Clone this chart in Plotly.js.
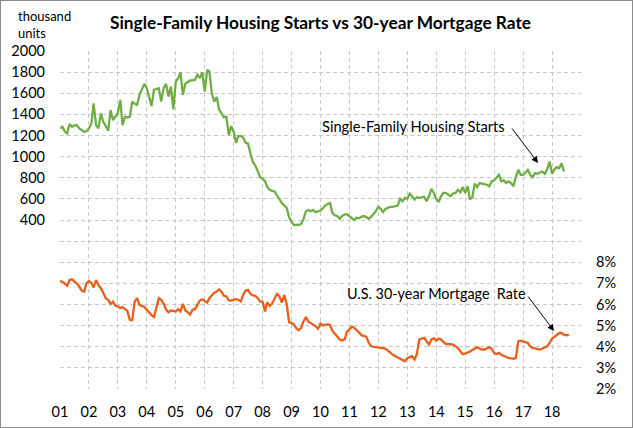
<!DOCTYPE html>
<html>
<head>
<meta charset="utf-8">
<script src="https://cdn.plot.ly/plotly-3.0.1.min.js"></script>
<style>
html,body{margin:0;padding:0;background:#fff;}
#chart{width:633px;height:428px;}
#frame{position:absolute;left:0;top:0;width:633px;height:428px;box-sizing:border-box;border:1px solid #8c8c8c;pointer-events:none;}
</style>
</head>
<body>
<div id="chart"></div>
<div id="frame"></div>
<script>
// Monthly data starting January 2001
const startYear = 2001;

// Single-family housing starts, thousand units (SAAR)
const housingStarts = [
  1267,1283,1240,1219,1308,1283,1295,1298,1267,1250,1235,1241,
  1267,1314,1505,1298,1267,1410,1330,1290,1244,1441,1346,1380,
  1410,1537,1298,1378,1371,1378,1521,1500,1489,1584,1640,1689,
  1648,1560,1479,1632,1640,1648,1521,1650,1689,1568,1663,1448,
  1711,1743,1797,1584,1690,1702,1721,1722,1727,1775,1743,1797,
  1616,1822,1806,1600,1521,1565,1448,1410,1371,1378,1203,1289,
  1235,1130,1194,1194,1181,1130,1124,1029,949,918,854,806,
  790,768,711,686,675,670,632,590,560,537,514,425,
  380,352,352,355,362,410,483,495,483,495,473,480,
  489,511,537,552,560,465,445,437,412,440,453,453,
  437,420,400,422,416,430,437,428,412,430,453,484,
  525,506,475,506,515,525,525,530,537,600,578,609,
  600,650,620,594,616,609,615,619,578,625,694,656,
  600,569,625,656,656,640,625,650,656,687,662,712,
  656,719,594,616,744,712,750,744,740,734,719,766,
  775,800,828,766,775,750,766,750,719,812,875,828,
  828,850,875,828,806,844,837,850,859,837,881,953,
  837,881,900,890,937,859
];

// U.S. 30-year mortgage rate, percent
const mortgageRate = [
  7.11,7.08,7.00,6.89,7.16,7.19,7.08,7.00,6.84,6.66,6.61,7.00,
  7.11,7.03,6.81,7.16,6.92,6.77,6.56,6.30,6.22,6.03,6.14,5.94,
  5.91,5.83,5.88,5.80,5.70,5.28,5.25,6.14,6.30,5.98,5.94,5.88,
  5.75,5.59,5.50,5.41,5.91,6.30,6.22,6.03,5.75,5.63,5.72,5.70,
  5.67,5.78,5.67,6.03,5.72,5.63,5.52,5.75,5.78,5.98,6.19,6.25,
  6.19,6.09,6.30,6.45,6.56,6.61,6.72,6.60,6.41,6.38,6.20,6.19,
  6.22,6.25,6.22,6.14,6.45,6.66,6.69,6.50,6.43,6.41,6.30,6.14,
  6.14,5.67,6.10,5.93,6.05,6.30,6.50,6.38,6.09,6.45,6.00,5.16,
  5.13,5.05,4.88,4.78,4.89,5.20,5.41,5.20,5.13,5.05,4.97,4.85,
  5.10,5.00,5.05,5.06,5.03,4.75,4.62,4.48,4.34,4.30,4.35,4.70,
  4.85,4.95,4.90,4.81,4.68,4.55,4.50,4.48,4.20,4.03,3.99,3.98,
  3.98,3.97,3.94,3.90,3.79,3.72,3.62,3.55,3.48,3.43,3.35,3.31,
  3.46,3.50,3.55,3.40,3.66,4.35,4.40,4.42,4.26,4.10,4.35,4.40,
  4.29,4.39,4.34,4.22,4.13,4.13,4.13,4.10,4.02,3.94,3.79,3.65,
  3.68,3.71,3.77,3.85,3.91,3.98,3.91,3.87,3.87,3.92,3.98,3.90,
  3.70,3.66,3.71,3.62,3.57,3.50,3.47,3.45,3.43,3.47,4.26,4.29,
  4.25,4.22,4.18,4.02,3.94,3.92,3.90,3.87,3.92,3.96,4.02,4.18,
  4.39,4.47,4.55,4.65,4.65,4.56,4.54,4.57
];

// Tick labels
const yearLabels = ['01','02','03','04','05','06','07','08','09','10','11','12','13','14','15','16','17','18'];
const leftTicks = [400,600,800,1000,1200,1400,1600,1800,2000];
const rightTicks = [2,3,4,5,6,7,8];

function monthDate(i){
  const y = startYear + Math.floor(i/12);
  const m = (i%12)+1;
  return y + '-' + (m<10?'0':'') + m + '-01';
}
const xStarts = housingStarts.map((_,i)=>monthDate(i));
const xRate = mortgageRate.map((_,i)=>monthDate(i));

const xTickVals = yearLabels.map((_,i)=>(startYear+i)+'-01-01').concat([(startYear+yearLabels.length)+'-01-01']);
const xTickText = yearLabels.concat(['']);

// left grid every 200 from -1200 to 2000 (shared with right axis 2%..18%)
const leftGridVals = [];
for (let v=-1200; v<=2000; v+=200) leftGridVals.push(v);
const leftGridText = leftGridVals.map(v => leftTicks.indexOf(v)>=0 ? String(v) : '');

const FONT = 'Lato, "Open Sans", sans-serif';
const gridColor = '#c8c8c8';
const gridDash = '4px,3px';

const traces = [
  {x:xStarts, y:housingStarts, type:'scatter', mode:'lines', name:'Single-Family Housing Starts',
   line:{color:'#70ad47', width:2.3}, yaxis:'y', hoverinfo:'skip'},
  {x:xRate, y:mortgageRate, type:'scatter', mode:'lines', name:'U.S. 30-year Mortgage Rate',
   line:{color:'#e8601c', width:2.3}, yaxis:'y2', hoverinfo:'skip'}
];

const layout = {
  width:633, height:428,
  margin:{l:60, r:52, t:51, b:39, pad:0},
  paper_bgcolor:'#fff', plot_bgcolor:'#fff',
  showlegend:false,
  font:{family:FONT, size:14, color:'#000'},
  title:{text:'<b>Single-Family Housing Starts vs 30-year Mortgage Rate</b>',
         font:{family:FONT, size:17.3, color:'#000'},
         x:0.5, xanchor:'center', xref:'paper', yref:'container', y:1-22.5/428, yanchor:'middle'},
  xaxis:{type:'date', range:['2001-01-01','2019-01-01'],
         tickmode:'array', tickvals:xTickVals, ticktext:xTickText,
         showgrid:true, gridcolor:gridColor, griddash:gridDash, gridwidth:1,
         zeroline:false, showline:false, ticks:'', ticklabelstandoff:12,
         tickfont:{family:FONT, size:14.5, color:'#000'}},
  yaxis:{range:[-1200,2000], tickmode:'array', tickvals:leftGridVals, ticktext:leftGridText,
         showgrid:true, gridcolor:gridColor, griddash:gridDash, gridwidth:1,
         zeroline:false, showline:false, ticks:'', ticklabelstandoff:14,
         tickfont:{family:FONT, size:14.5, color:'#000'}},
  yaxis2:{range:[2,18], overlaying:'y', side:'right', tickmode:'array',
          tickvals:rightTicks, ticktext:rightTicks.map(v=>v+'%'),
          showgrid:false, zeroline:false, showline:false, ticks:'', ticklabelstandoff:14,
          tickfont:{family:FONT, size:14.5, color:'#000'}},
  annotations:[
    {text:'thousand<br>units', xref:'paper', yref:'paper', x:-44/521, y:(389-6)/338,
     xanchor:'left', yanchor:'top', align:'left', showarrow:false,
     font:{family:FONT, size:13, color:'#000'}},
    {text:'Single-Family Housing Starts', xref:'paper', yref:'paper',
     x:(320-60)/521, y:(389-126)/338, xanchor:'left', yanchor:'middle', showarrow:false,
     font:{family:FONT, size:14.7, color:'#000'}},
    {text:'', xref:'paper', yref:'paper', x:(538-60)/521, y:(389-163)/338,
     ax:-27, ay:-36, showarrow:true, arrowhead:2, arrowsize:1.3, arrowwidth:1, arrowcolor:'#000'},
    {text:'U.S. 30-year Mortgage  Rate', xref:'paper', yref:'paper',
     x:(345-60)/521, y:(389-293)/338, xanchor:'left', yanchor:'middle', showarrow:false,
     font:{family:FONT, size:14.4, color:'#000'}},
    {text:'', xref:'paper', yref:'paper', x:(554-60)/521, y:(389-331)/338,
     ax:-27, ay:-36, showarrow:true, arrowhead:2, arrowsize:1.3, arrowwidth:1, arrowcolor:'#000'}
  ]
};

Plotly.newPlot('chart', traces, layout, {staticPlot:true, displayModeBar:false});
</script>
</body>
</html>
